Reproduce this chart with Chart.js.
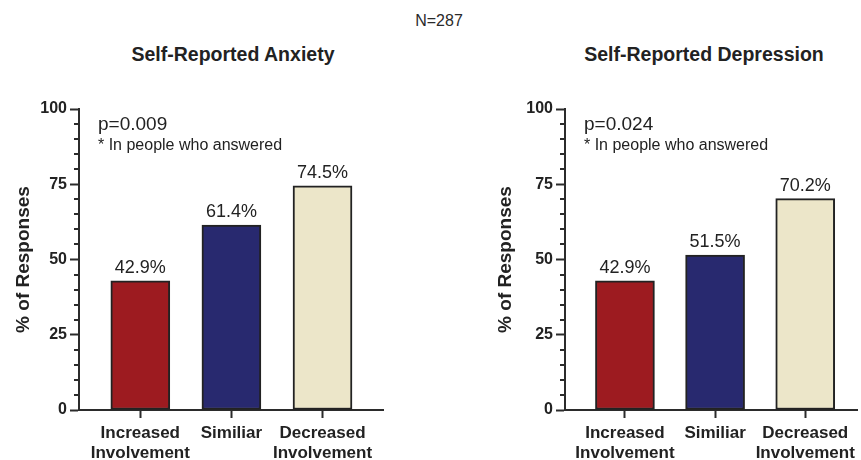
<!DOCTYPE html>
<html>
<head>
<meta charset="utf-8">
<script src="https://cdn.jsdelivr.net/npm/chart.js@4.4.1/dist/chart.umd.min.js"></script>
<style>
  body { margin: 0; background: #fff; }
  #wrap { position: relative; width: 861px; height: 460px; overflow: hidden; font-family: "Liberation Sans", Arial, sans-serif; color: #222; }
  .head { position: absolute; width: 300px; text-align: center; white-space: nowrap; }
  .sub { font-weight: bold; font-size: 19.5px; line-height: 22px; top: 43px; }
  canvas { position: absolute; top: 0; }
</style>
</head>
<body>
<div id="wrap">
  <div class="head" style="left:289px; top:12px; font-size:16px; line-height:18px; color:#2a2a2a;">N=287</div>
  <div class="head sub" style="left:83px;">Self-Reported Anxiety</div>
  <div class="head sub" style="left:554px;">Self-Reported Depression</div>
  <canvas id="anxietyChart" width="430" height="460" style="left:0;"></canvas>
  <canvas id="depressionChart" width="379" height="460" style="left:482px;"></canvas>
</div>
<script>
const categories = ["Increased Involvement", "Similiar", "Decreased Involvement"];
const anxietyValues = [42.9, 61.4, 74.5];
const depressionValues = [42.9, 51.5, 70.2];
const yTicks = [0, 25, 50, 75, 100];
const pAnxiety = "p=0.009";
const pDepression = "p=0.024";
const note = "* In people who answered";

const barColors = ["#9d1b20", "#28296f", "#ece6c9"];
const axisColor = "#2b2b2b";
const textColor = "#222";
const FONT = '"Liberation Sans", Arial, sans-serif';

// minor y ticks, value labels and the p-value note
const extras = {
  id: "extras",
  afterDraw(chart, args, opts) {
    const ctx = chart.ctx;
    const y = chart.scales.y;
    const area = chart.chartArea;
    ctx.save();
    ctx.strokeStyle = axisColor;
    ctx.lineWidth = 2;
    y.ticks.forEach(t => {
      if (yTicks.includes(t.value)) return;
      const py = Math.round(y.getPixelForValue(t.value));
      ctx.beginPath();
      ctx.moveTo(area.left - 5, py);
      ctx.lineTo(area.left, py);
      ctx.stroke();
    });

    ctx.fillStyle = textColor;
    ctx.font = "18px " + FONT;
    ctx.textAlign = "center";
    ctx.textBaseline = "alphabetic";
    const ds = chart.data.datasets[0];
    chart.getDatasetMeta(0).data.forEach((bar, i) => {
      ctx.fillText(ds.data[i].y.toFixed(1) + "%", bar.x, bar.y - 8);
    });

    const top = y.getPixelForValue(100);
    ctx.textAlign = "left";
    ctx.font = "19px " + FONT;
    ctx.fillText(opts.p, area.left + 19, top + 21);
    ctx.font = "16px " + FONT;
    ctx.fillText(note, area.left + 19, top + 41);
    ctx.restore();
  }
};

function makeChart(id, values, pText, yWidth, xMin, xMax, padRight) {
  return new Chart(document.getElementById(id), {
    type: "bar",
    data: {
      datasets: [{
        data: values.map((v, i) => ({ x: i, y: v })),
        backgroundColor: barColors,
        borderColor: "#222",
        borderWidth: 2,
        borderSkipped: false,
        barThickness: 59,
      }],
    },
    options: {
      responsive: false,
      animation: false,
      devicePixelRatio: 1,
      layout: { padding: { top: 109, right: padRight, left: 0, bottom: 0 } },
      plugins: {
        legend: { display: false },
        tooltip: { enabled: false },
        extras: { p: pText },
      },
      scales: {
        x: {
          type: "linear",
          offset: false,
          min: xMin,
          max: xMax,
          afterFit: s => { s.height = 50; },
          border: { color: axisColor, width: 2 },
          grid: { offset: false, drawOnChartArea: false, tickLength: 8, tickWidth: 2, tickColor: axisColor },
          ticks: {
            stepSize: 1,
            includeBounds: false,
            autoSkip: false,
            maxRotation: 0,
            padding: 6,
            color: textColor,
            font: { family: FONT, size: 17, weight: "bold", lineHeight: 1.15 },
            callback: v => (categories[v] ? categories[v].split(" ") : ""),
          },
        },
        y: {
          min: 0,
          max: 100,
          afterFit: s => { s.width = yWidth; },
          border: { color: axisColor, width: 2 },
          grid: {
            drawOnChartArea: false,
            tickLength: 9,
            tickWidth: 2,
            tickColor: c => (yTicks.includes(c.tick.value) ? axisColor : "rgba(0,0,0,0)"),
          },
          ticks: {
            stepSize: 5,
            autoSkip: false,
            padding: 3,
            color: textColor,
            font: { family: FONT, size: 16, weight: "bold" },
            callback: v => (yTicks.includes(v) ? v : ""),
          },
          title: {
            display: true,
            text: "% of Responses",
            color: textColor,
            font: { family: FONT, size: 19, weight: "bold" },
            padding: { top: 12, bottom: 0 },
          },
        },
      },
    },
    plugins: [extras],
  });
}

makeChart("anxietyChart", anxietyValues, pAnxiety, 79, -0.673, 2.664, 47);
makeChart("depressionChart", depressionValues, pDepression, 83, -0.665, 2.577, 1);
</script>
</body>
</html>
